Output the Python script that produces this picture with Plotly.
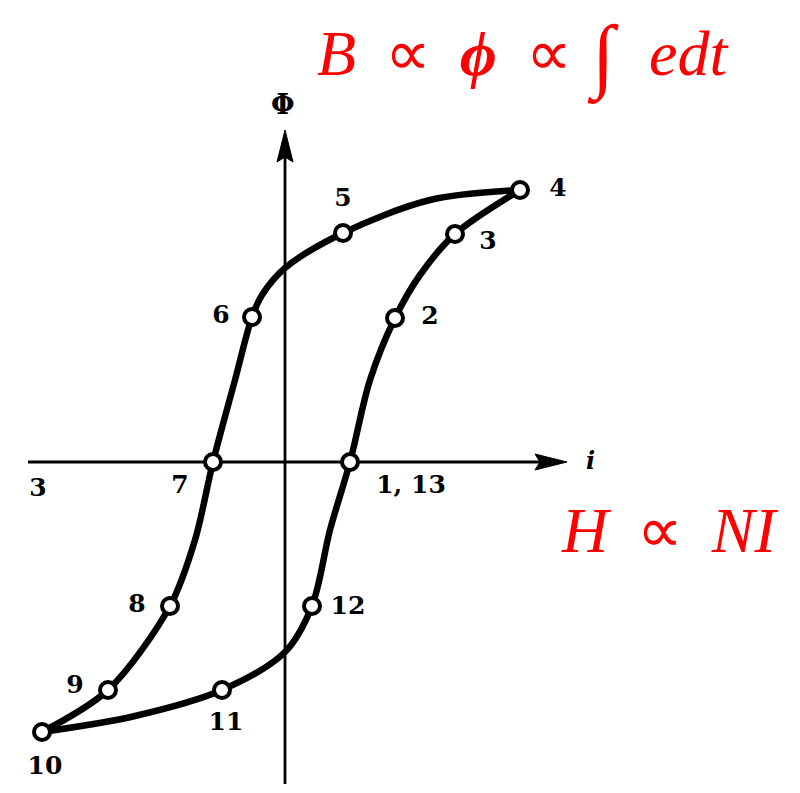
import plotly.graph_objects as go

# Hysteresis loop: flux (Phi) against magnetising current (i).
# Units are arbitrary; origin is where the two axes cross.

# Numbered measurement points around the loop
point_ids = ["1, 13", "2", "3", "4", "5", "6", "7", "8", "9", "10", "11", "12"]
point_i   = [65, 110, 170, 235, 58, -33, -72, -115, -177, -243, -63, 27]
point_phi = [0, 144, 228, 272, 229, 145, 0, -144, -228, -270, -228, -144]

# Label placement for each numbered point (text anchor location)
label_i   = [126, 145, 203, 273, 58, -64, -105, -148, -210, -240, -59, 63]
label_phi = [-25, 144, 219, 272, 262, 145, -25, -144, -225, -306, -262, -146]

# Traced outline of the loop (descending branch, then ascending branch)
branch_down_i   = [235, 145, 58, 0, -23, -33, -50, -72, -90, -115, -177, -243]
branch_down_phi = [272, 262, 229, 194, 167, 145, 82, 0, -78, -144, -228, -270]
branch_up_i     = [-243, -150, -63, 0, 27, 45, 65, 85, 110, 135, 170, 235]
branch_up_phi   = [-270, -254, -228, -190, -144, -68, 0, 82, 144, 187, 228, 272]

# Stray label at the far left of the i axis
extra_label = "3"
extra_i, extra_phi = [-247], [-28]

fig = go.Figure()

line_style = dict(color="black", width=6.5, shape="spline", smoothing=0.9)
fig.add_trace(go.Scatter(x=branch_down_i, y=branch_down_phi, mode="lines",
                         line=line_style, hoverinfo="skip"))
fig.add_trace(go.Scatter(x=branch_up_i, y=branch_up_phi, mode="lines",
                         line=line_style, hoverinfo="skip"))

# Axes with arrowheads
axis_w = 2.8
fig.add_shape(type="line", x0=-257, y0=0, x1=255, y1=0,
              line=dict(color="black", width=axis_w), layer="below")
fig.add_shape(type="line", x0=0, y0=-322, x1=0, y1=305,
              line=dict(color="black", width=axis_w), layer="below")
fig.add_shape(type="path", path="M 250,8 L 282,0 L 250,-8 L 255,0 Z",
              fillcolor="black", line=dict(color="black", width=1))
fig.add_shape(type="path", path="M -8,300 L 0,332 L 8,300 L 0,305 Z",
              fillcolor="black", line=dict(color="black", width=1))

# Open circle markers at the numbered points
fig.add_trace(go.Scatter(x=point_i, y=point_phi, mode="markers",
                         marker=dict(size=16, color="white",
                                     line=dict(color="black", width=4)),
                         hoverinfo="skip"))

num_font = dict(family="DejaVu Serif, serif", size=25, color="black", weight="bold")
fig.add_trace(go.Scatter(x=label_i + extra_i, y=label_phi + extra_phi,
                         mode="text", text=point_ids + [extra_label],
                         textfont=num_font, hoverinfo="skip"))

# Axis names
fig.add_annotation(x=-2, y=358, text="<b>Φ</b>", showarrow=False,
                   font=dict(family="DejaVu Serif, serif", size=27, color="black"))
fig.add_annotation(x=305, y=2, text="<b><i>i</i></b>", showarrow=False,
                   font=dict(family="DejaVu Serif, serif", size=24, color="black"))

# Red relations
red_font = dict(family="Liberation Serif, serif", size=64, color="red")
fig.add_annotation(x=289, y=409, xanchor="right",
                   text="<i>B</i>\u2009 ∝ \u2009<b><i>ϕ</i></b>\u2009 ∝",
                   showarrow=False, font=red_font)
fig.add_annotation(x=318, y=406, text="∫", showarrow=False,
                   font=dict(family="Liberation Serif, serif", size=82, color="red"))
fig.add_annotation(x=362, y=409, xanchor="left", text="<i>edt</i>",
                   showarrow=False, font=red_font)
fig.add_annotation(x=385, y=-68, text="<i>H</i> \u2009∝\u2009 <i>NI</i>",
                   showarrow=False, font=red_font)

fig.update_layout(
    width=800, height=793,
    margin=dict(l=0, r=0, t=0, b=0),
    paper_bgcolor="white", plot_bgcolor="white",
    showlegend=False,
    xaxis=dict(range=[-285, 515], visible=False, fixedrange=True),
    yaxis=dict(range=[-331, 462], visible=False, fixedrange=True),
)

fig.write_html("out.html")
